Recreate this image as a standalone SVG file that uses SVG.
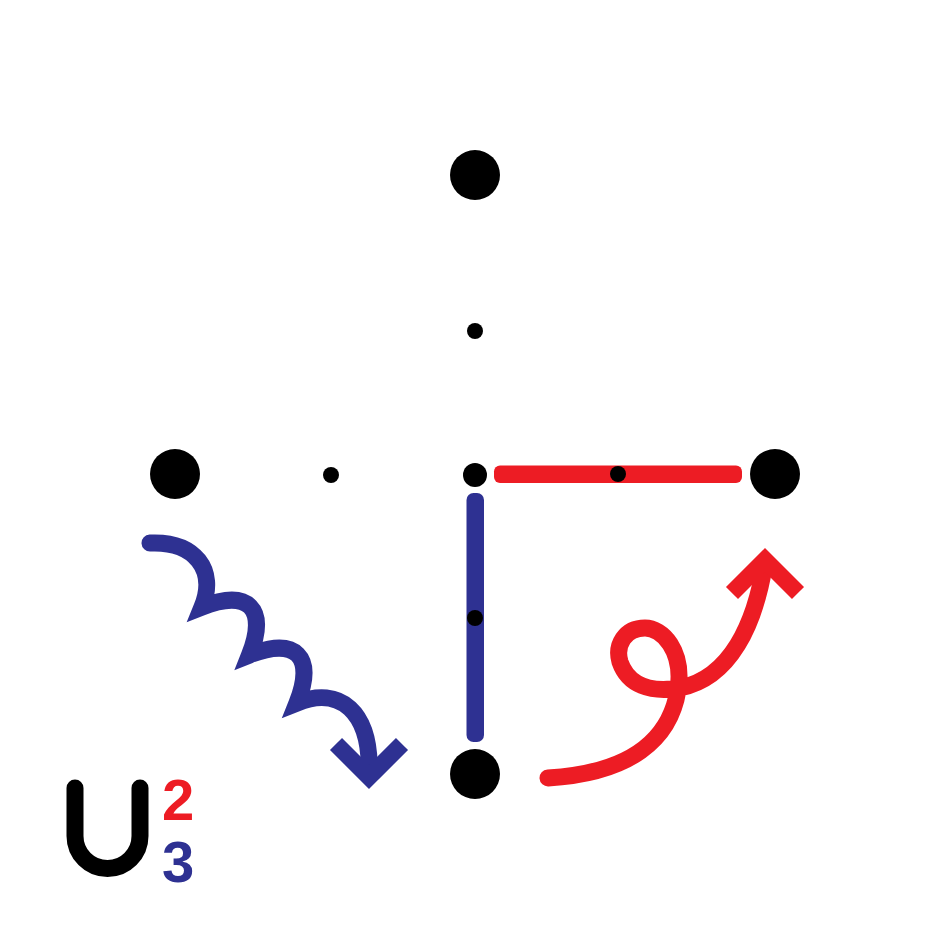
<svg xmlns="http://www.w3.org/2000/svg" width="950" height="950" viewBox="0 0 950 950">
<style>
.big{fill:#000}
.small{fill:#000}
.blue{fill:none;stroke:#2E3192;stroke-width:17;stroke-miterlimit:10}
.red{fill:none;stroke:#ED1C24;stroke-width:17;stroke-miterlimit:10}
.lbl{font-family:"Liberation Sans",Arial,sans-serif;font-weight:bold;font-size:58px}
</style>
<rect width="950" height="950" fill="#fff"/>
<g id="connectors">
<rect x="494" y="465.5" width="248" height="17.5" rx="6" fill="#ED1C24"/>
<rect x="466.5" y="493" width="17.5" height="249" rx="7" fill="#2E3192"/>
<path class="blue" stroke-linecap="round" stroke-linejoin="miter" d="M150,543 C195,541 217,570 202,607 C248.5,588.5 268,608.5 249.5,655 C296,636.5 315.5,656.5 297,703 C339,686 372,710 369,776"/>
<path class="blue" stroke-linejoin="miter" d="M336,744 L369,777 L402,744"/>
<path class="red" stroke-linecap="round" d="M548,778 C630,773 670,740 678,690 C684,650 662,628 645,628 C625,628 615,645 620,662 C628,685 650,693 680,688 C730,678 755,625 765,562"/>
<path class="red" stroke-linejoin="miter" d="M732,593 L765,560 L798,593"/>
</g>
<g id="n1"><circle class="big" cx="475" cy="175" r="25"/></g>
<g id="n2"><circle class="big" cx="175" cy="474" r="25"/></g>
<g id="n3"><circle class="big" cx="775" cy="474" r="25"/></g>
<g id="n4"><circle class="big" cx="475" cy="774" r="25"/></g>
<g id="n5"><circle class="small" cx="475" cy="331" r="8"/></g>
<g id="n6"><circle class="small" cx="331" cy="475" r="8"/></g>
<g id="n7"><circle class="small" cx="475" cy="475" r="12"/></g>
<g id="n8"><circle class="small" cx="618" cy="474" r="8"/></g>
<g id="n9"><circle class="small" cx="475" cy="618" r="8"/></g>
<g id="label">
<path d="M75,788 L75,836 A32.5,32.5 0 0 0 140,836 L140,788" fill="none" stroke="#000" stroke-width="17" stroke-linecap="round"/>
<text class="lbl" x="162" y="820" fill="#ED1C24">2</text>
<text class="lbl" x="162" y="882" fill="#2E3192">3</text>
</g>
</svg>
